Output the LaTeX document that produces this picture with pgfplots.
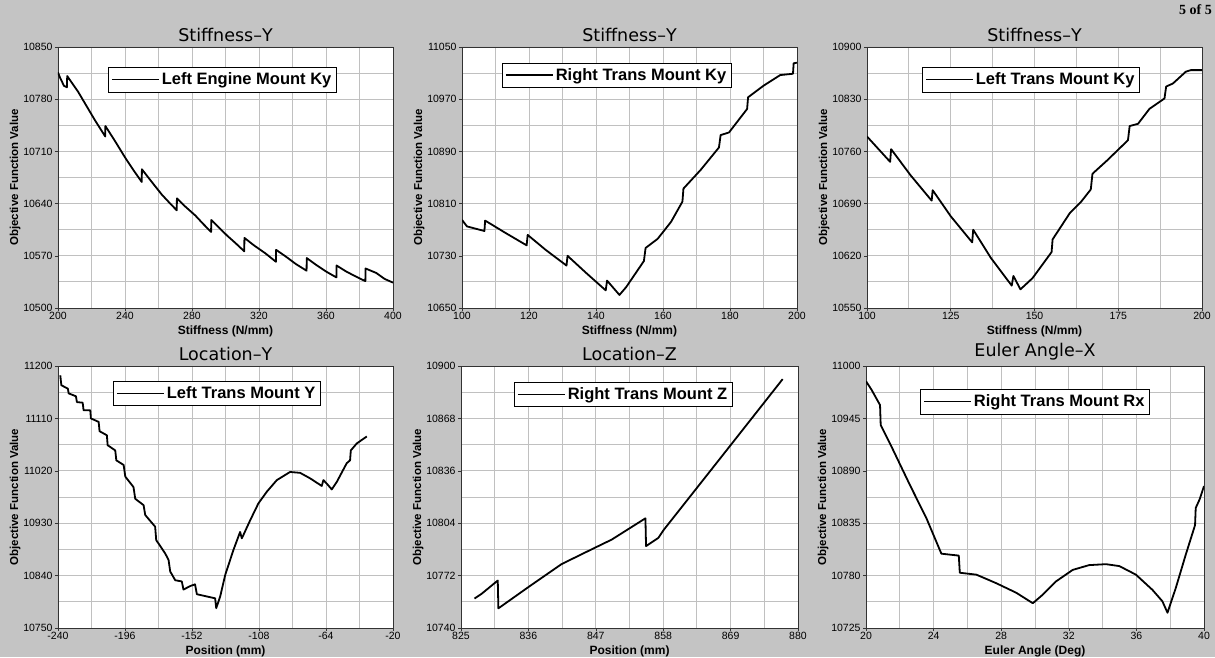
\documentclass[border=0pt]{standalone}
\usepackage{fontspec}
\setmainfont{Liberation Sans}
\newfontfamily\titlefont{DejaVu Sans}
\newfontfamily\pagefont{Liberation Serif}
\usepackage{pgfplots}
\pgfplotsset{compat=1.18}
\definecolor{bg}{RGB}{196,196,196}
\definecolor{gridc}{RGB}{192,192,192}

\pgfplotsset{
  panel/.style={
    scale only axis, width=335pt, height=261pt, anchor=south west,
    axis line style={black!80, line width=0.8pt},
    axis background/.style={fill=white},
    grid=both, minor tick num=1,
    major grid style={gridc, line width=1pt},
    minor grid style={gridc, line width=1pt},
    tick align=outside, major tick length=3pt, minor tick length=0pt,
    tick style={black!80, line width=0.6pt},
    xtick pos=bottom, ytick pos=left,
    scaled ticks=false,
    ticklabel style={font=\fontsize{10.5}{10.5}\selectfont},
    /pgf/number format/assume math mode=true,
    /pgf/number format/1000 sep={},
    xticklabel style={yshift=2pt},
    yticklabel style={xshift=1pt},
    title style={font=\titlefont\fontsize{17.5}{17.5}\selectfont, yshift=-4pt},
    xlabel style={font=\bfseries\fontsize{12}{12}\selectfont, yshift=1pt},
    ylabel={Objective Function Value},
    ylabel style={font=\bfseries\fontsize{11.5}{11.5}\selectfont, yshift=-4pt},
    legend cell align=left,
    legend style={anchor=north west, draw=black, fill=white,
      font=\bfseries\fontsize{16.5}{16.5}\selectfont,
      inner xsep=3pt, inner ysep=3.5pt,
      nodes={inner xsep=2pt, inner ysep=2pt}},
    legend image code/.code={\draw[black, line width=1.7pt] (0pt,0pt) -- (47pt,0pt);},
  },
  curve/.style={black, line width=1.8pt, line join=round, mark=none},
}

\begin{document}
\begin{tikzpicture}
\useasboundingbox (0pt,0pt) rectangle (1215pt,657pt);
\fill[bg] (0pt,0pt) rectangle (1215pt,657pt);
\node[anchor=north east, inner sep=0pt, font=\pagefont\bfseries\fontsize{14}{14}\selectfont] at (1212pt,653pt) {5 of 5};

% Stiffness-Y, left engine mount
\begin{axis}[panel, at={(58pt,349pt)},
  title={Stiffness–Y}, xlabel={Stiffness (N/mm)},
  xmin=200, xmax=400, ymin=10500, ymax=10850,
  xtick={200,240,...,400}, ytick={10500,10570,10640,10710,10780,10850},
  legend style={at={(0.149,0.923)}}]
\addplot[curve] coordinates {
(200,10816) (201,10810) (202.5,10803) (203.5,10798) (205.3,10796) (205.5,10811)
(212,10790) (217,10771) (222,10752) (228.2,10730) (228.3,10744)
(234,10724) (240,10702) (245,10685) (250,10669) (250.1,10686)
(256,10669) (262,10652) (267,10640) (270.9,10631) (271,10647)
(276,10636) (282,10624) (287,10612) (291.4,10602) (291.5,10618)
(296,10608) (301,10597) (306,10587) (311.2,10576) (311.3,10594)
(317,10584) (324,10573) (330.1,10562) (330.2,10578)
(336,10569) (342,10559) (348.4,10550) (348.5,10567)
(354,10558) (360,10549) (366.2,10541) (366.3,10557)
(372,10549) (378,10542) (383.5,10536) (383.6,10553)
(390,10547) (395,10539) (400,10534)};
\addlegendentry{Left Engine Mount Ky}
\end{axis}

% Stiffness-Y, right trans mount
\begin{axis}[panel, at={(462pt,349pt)},
  title={Stiffness–Y}, xlabel={Stiffness (N/mm)},
  xmin=100, xmax=200, ymin=10650, ymax=11050,
  xtick={100,120,...,200}, ytick={10650,10730,10810,10890,10970,11050},
  legend style={at={(0.119,0.939)}}]
\addplot[curve] coordinates {
(100,10785) (101.5,10775) (103,10773) (106.7,10768) (106.9,10784)
(113,10765) (119.3,10746) (119.6,10762)
(125,10739) (131.2,10715) (131.5,10730)
(137,10704) (142.9,10677) (143.3,10692) (147,10670)
(149,10682) (154.3,10722) (154.8,10742) (158.4,10756) (162.4,10782)
(165.8,10813) (166.1,10833) (171.3,10862) (176.7,10896) (177.2,10915)
(179.7,10919) (185.1,10955) (185.4,10973) (190.1,10991) (195,11007)
(198.8,11009) (199,11025) (200,11026)};
\addlegendentry{Right Trans Mount Ky}
\end{axis}

% Stiffness-Y, left trans mount
\begin{axis}[panel, at={(867pt,349pt)},
  title={Stiffness–Y}, xlabel={Stiffness (N/mm)},
  xmin=100, xmax=200, ymin=10550, ymax=10900,
  xtick={100,125,...,200}, ytick={10550,10620,10690,10760,10830,10900},
  legend style={at={(0.164,0.923)}}]
\addplot[curve] coordinates {
(100,10780) (106.9,10746) (107.2,10763)
(113,10728) (119.3,10694) (119.6,10708)
(125,10673) (131.4,10638) (131.7,10655)
(137,10617) (143.2,10580) (143.7,10593) (145.8,10575)
(149.4,10590) (155.1,10625) (155.4,10642) (160.5,10677) (164,10693)
(166.8,10709) (167.3,10730) (171.7,10748) (177.9,10775) (178.4,10794)
(180.9,10797) (184.3,10817) (188.8,10831) (189.3,10847) (191.3,10851)
(195.2,10867) (196.7,10869) (200,10869)};
\addlegendentry{Left Trans Mount Ky}
\end{axis}

% Location-Y
\begin{axis}[panel, at={(58pt,29pt)}, height=262pt,
  title={Location–Y}, xlabel={Position (mm)},
  xmin=-240, xmax=-20, ymin=10750, ymax=11200,
  xtick={-240,-196,-152,-108,-64,-20},
  xticklabels={-240,-196,-152,-108,-64,-20},
  ytick={10750,10840,10930,11020,11110,11200},
  legend style={at={(0.164,0.943)}}]
\addplot[curve] coordinates {
(-238.5,11184) (-237.8,11167) (-233.5,11161) (-233.0,11153) (-228.2,11148)
(-227.6,11138) (-223.8,11137) (-223.2,11124) (-218.8,11124) (-218.4,11110)
(-213.3,11104) (-212.7,11088) (-207.9,11081) (-207.4,11064) (-202.4,11055)
(-201.7,11038) (-196.9,11030) (-195.8,11010) (-190.4,10992) (-189.3,10972)
(-183.8,10961) (-182.7,10944) (-176.2,10924) (-175.5,10901) (-169.6,10878)
(-167.4,10867) (-166.3,10847) (-163,10832) (-158.7,10830) (-157.6,10816)
(-153.2,10822) (-150,10825) (-148.8,10808) (-136.8,10801) (-136.1,10784)
(-133.5,10804) (-130.2,10841) (-124.8,10884) (-120.4,10915) (-119.3,10904)
(-118.2,10910) (-113.8,10935) (-108.4,10964) (-102.9,10984) (-96.3,11004)
(-87.6,11018) (-81,11016.5) (-74.4,11007) (-66.8,10994) (-65.7,11004)
(-63.5,10998) (-60.2,10988) (-56.9,11001) (-50.4,11033) (-48.2,11038)
(-47.7,11055) (-43.8,11067) (-37.2,11079)};
\addlegendentry{Left Trans Mount Y}
\end{axis}

% Location-Z
\begin{axis}[panel, at={(461pt,29pt)}, height=262pt, width=337pt,
  title={Location–Z}, xlabel={Position (mm)},
  xmin=825, xmax=880, ymin=10740, ymax=10900,
  xtick={825,836,847,858,869,880},
  ytick={10740,10772,10804,10836,10868,10900},
  legend style={at={(0.157,0.939)}}]
\addplot[curve] coordinates {
(827.2,10758) (828.4,10761) (831.0,10769) (831.1,10752)
(836.0,10765) (841.4,10779) (846.3,10788) (849.6,10794) (855.1,10807)
(855.2,10790) (857.2,10795) (858.1,10800) (867.6,10845) (877.5,10892)};
\addlegendentry{Right Trans Mount Z}
\end{axis}

% Euler Angle-X
\begin{axis}[panel, at={(866pt,29pt)}, height=262pt, width=338pt,
  title={Euler Angle–X}, xlabel={Euler Angle (Deg)},
  xmin=20, xmax=40, ymin=10725, ymax=11000,
  xtick={20,24,...,40},
  ytick={10725,10780,10835,10890,10945,11000},
  legend style={at={(0.16,0.912)}}]
\addplot[curve] coordinates {
(20,10984) (20.33,10975) (20.83,10959) (20.87,10938) (21.6,10912)
(22.6,10875) (23.58,10840) (24.46,10803) (25.49,10801) (25.55,10783)
(26.53,10781) (27.71,10772) (28.89,10762) (29.87,10751) (30.46,10760)
(31.25,10774) (32.23,10786) (33.2,10791) (34.2,10792) (34.99,10790)
(35.97,10781) (36.95,10765) (37.54,10753) (37.84,10741) (38.33,10767)
(38.92,10802) (39.47,10833) (39.51,10851) (39.74,10860) (40,10874)};
\addlegendentry{Right Trans Mount Rx}
\end{axis}
\end{tikzpicture}
\end{document}
